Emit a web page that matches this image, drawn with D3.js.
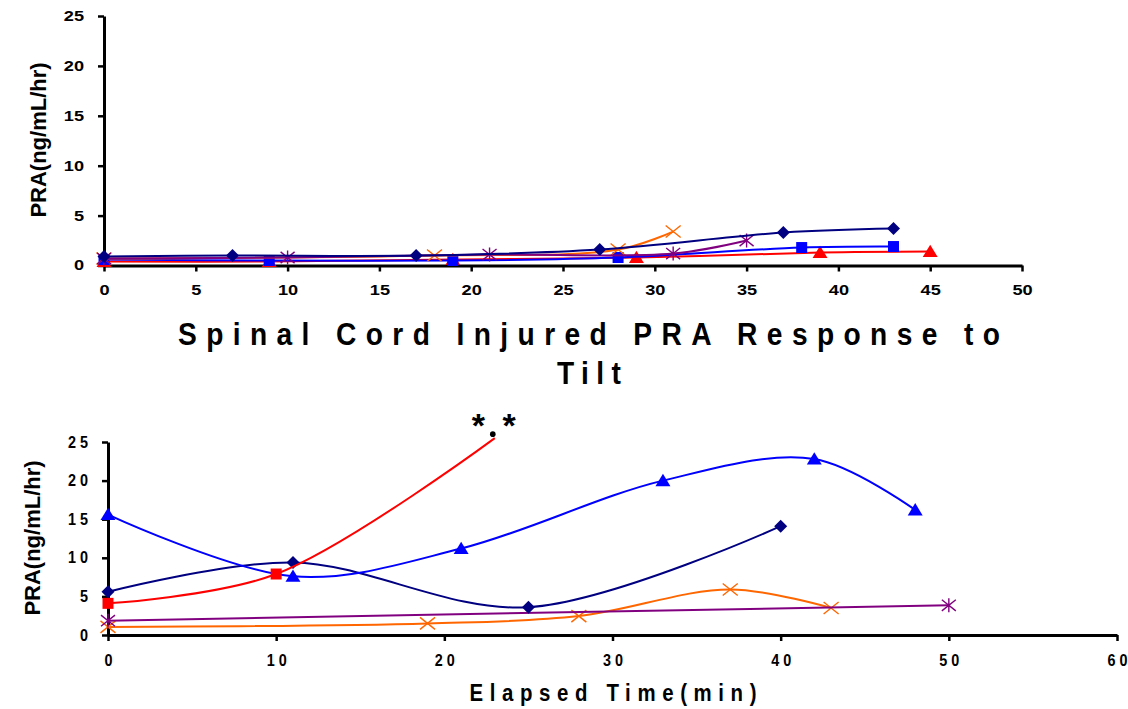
<!DOCTYPE html>
<html>
<head>
<meta charset="utf-8">
<style>
  body { margin: 0; background: #fff; }
  svg { display: block; font-family: "Liberation Sans", Arial, sans-serif; }
  .axis path, .axis line { stroke: #000; }
  .axis path { stroke-width: 3; }
  .axis line { stroke-width: 2.5; }
  .line { fill: none; stroke-width: 2; }
</style>
</head>
<body>
<svg width="1128" height="709"></svg>
<script src="https://d3js.org/d3.v7.min.js"></script>
<script>

// ---- top panel values ----
var topNavyX = [0, 7, 17, 27, 37, 43];
var topNavyY = [0.9, 1.0, 1.0, 1.6, 3.3, 3.7];
var topBlueX = [0, 9, 19, 28, 38, 43];
var topBlueY = [0.6, 0.5, 0.5, 0.8, 1.8, 1.9];
var topRedX = [0, 9, 19, 29, 39, 45];
var topRedY = [0.4, 0.4, 0.6, 0.8, 1.3, 1.4];
var topOrangeX = [0, 18, 28, 31];
var topOrangeY = [0.7, 1.0, 1.6, 3.4];
var topPurpleX = [0, 10, 21, 31, 35];
var topPurpleY = [0.7, 0.8, 1.1, 1.2, 2.5];

// ---- bottom panel: spinal cord injured ----
var botNavyX = [0, 11, 25, 40];
var botNavyY = [5.6, 9.4, 3.6, 14.1];
var botRedX = [0, 10, 23];
var botRedY = [4.1, 7.9, 25.5];
var botBlueX = [0, 11, 21, 33, 42, 48];
var botBlueY = [15.6, 7.6, 11.2, 20.0, 22.8, 16.2];
var botOrangeX = [0, 19, 28, 37, 43];
var botOrangeY = [1.05, 1.5, 2.45, 5.9, 3.5];
var botPurpleX = [0, 50];
var botPurpleY = [1.85, 3.85];

var topXTicks = [0, 5, 10, 15, 20, 25, 30, 35, 40, 45, 50];
var botXTicks = [0, 10, 20, 30, 40, 50, 60];
var yTicks = [0, 5, 10, 15, 20, 25];

var title = ["Spinal Cord Injured PRA Response to", "Tilt"];
var yTitle = "PRA(ng/mL/hr)";
var xTitle = "Elapsed Time(min)";

var NAVY = "#000080", BLUE = "#0000ff", RED = "#ff0000", ORANGE = "#ff6600", PURPLE = "#800080";

function zip(xs, ys) { return xs.map(function(x, i) { return [x, ys[i]]; }); }

var topSeries = [
  { pts: zip(topRedX, topRedY), color: RED, marker: "triangle" },
  { pts: zip(topBlueX, topBlueY), color: BLUE, marker: "square" },
  { pts: zip(topOrangeX, topOrangeY), color: ORANGE, marker: "x" },
  { pts: zip(topPurpleX, topPurpleY), color: PURPLE, marker: "star" },
  { pts: zip(topNavyX, topNavyY), color: NAVY, marker: "diamond" }
];
var botSeries = [
  { pts: zip(botOrangeX, botOrangeY), color: ORANGE, marker: "x" },
  { pts: zip(botPurpleX, botPurpleY), color: PURPLE, marker: "star" },
  { pts: zip(botNavyX, botNavyY), color: NAVY, marker: "diamond" },
  { pts: zip(botBlueX, botBlueY), color: BLUE, marker: "triangle" },
  { pts: zip(botRedX, botRedY), color: RED, marker: "square", marked: 2 } // last point has no marker
];

var svg = d3.select("svg");

// marker shapes, r = half size
function markerPath(type, r) {
  switch (type) {
    case "diamond": return "M0," + (-r) + "L" + r + ",0L0," + r + "L" + (-r) + ",0Z";
    case "square": return "M" + (-r) + "," + (-r) + "H" + r + "V" + r + "H" + (-r) + "Z";
    case "triangle": return "M0," + (-r * 1.05) + "L" + (r * 1.15) + "," + (r * 0.85) + "L" + (-r * 1.15) + "," + (r * 0.85) + "Z";
    case "x": return "M" + (-r) + "," + (-r * 0.8) + "L" + r + "," + (r * 0.8) + "M" + (-r) + "," + (r * 0.8) + "L" + r + "," + (-r * 0.8);
    case "star": return "M" + (-r) + "," + (-r * 0.8) + "L" + r + "," + (r * 0.8) + "M" + (-r) + "," + (r * 0.8) + "L" + r + "," + (-r * 0.8) + "M0," + (-r) + "V" + r;
  }
}
var markerSize = { diamond: 6.5, square: 5.5, triangle: 6.5, x: 7.5, star: 7 };

// sx = horizontal stretch of the tick label glyphs
function drawAxes(g, x, y, xTicks, yTicks, spaced, lblSize, sx) {
  var fmt = function(d) { return spaced ? String(d).split("").join(" ") : String(d); };
  var pad = 14;

  var xa = g.append("g")
      .attr("class", "axis")
      .attr("transform", "translate(0," + y.range()[0] + ")")
      .call(d3.axisBottom(x).tickValues(xTicks).tickSize(6).tickSizeOuter(0).tickPadding(pad).tickFormat(fmt));
  var ya = g.append("g")
      .attr("class", "axis")
      .attr("transform", "translate(" + x.range()[0] + ",0)")
      .call(d3.axisLeft(y).tickValues(yTicks).tickSize(6).tickSizeOuter(0).tickPadding(pad).tickFormat(fmt));
  [xa, ya].forEach(function(a) {
    a.attr("font-family", null);
    a.selectAll("text")
        .attr("fill", "#000")
        .style("font-size", lblSize + "px")
        .style("font-weight", "bold")
        .attr("transform", "scale(" + sx + ",1)");
  });
  ya.selectAll("text").attr("x", -(6 + pad) / sx);
}

function drawSeries(g, series, x, y) {
  var line = d3.line()
      .x(function(d) { return x(d[0]); })
      .y(function(d) { return y(d[1]); })
      .curve(d3.curveCatmullRom.alpha(0.5));

  series.forEach(function(s) {
    g.append("path")
        .attr("class", "line")
        .attr("stroke", s.color)
        .attr("d", line(s.pts));

    var pts = s.marked ? s.pts.slice(0, s.marked) : s.pts;
    var stroked = s.marker === "x" || s.marker === "star";
    g.append("g").selectAll("path")
      .data(pts)
      .enter().append("path")
        .attr("transform", function(d) { return "translate(" + x(d[0]) + "," + y(d[1]) + ")"; })
        .attr("d", markerPath(s.marker, markerSize[s.marker]))
        .attr("fill", stroked ? "none" : s.color)
        .attr("stroke", s.color)
        .attr("stroke-width", stroked ? 1.4 : 0);
  });
}

// top panel
var xTop = d3.scaleLinear().domain([0, 50]).range([104, 1022]);
var yTop = d3.scaleLinear().domain([0, 25]).range([265.5, 16]);
var gTop = svg.append("g");
drawAxes(gTop, xTop, yTop, topXTicks, yTicks, false, 14, 1.3);
drawSeries(gTop, topSeries, xTop, yTop);

// bottom panel
var xBot = d3.scaleLinear().domain([0, 60]).range([108, 1117]);
var yBot = d3.scaleLinear().domain([0, 25]).range([635, 442]);
var gBot = svg.append("g");
drawAxes(gBot, xBot, yBot, botXTicks, yTicks, true, 16, 0.9);
drawSeries(gBot, botSeries, xBot, yBot);

// y titles
[[38, 140], [32, 538]].forEach(function(p) {
  svg.append("text")
      .attr("transform", "translate(" + p[0] + "," + p[1] + ") rotate(-90)")
      .attr("text-anchor", "middle")
      .attr("dy", "0.35em")
      .style("font-size", "22px")
      .style("font-weight", "bold")
      .text(yTitle);
});

// chart title (wide letter spacing, narrow glyphs)
var tg = svg.append("g").attr("transform", "translate(589,0) scale(0.88,1)");
tg.append("text")
    .attr("x", 0).attr("y", 345)
    .attr("text-anchor", "middle")
    .attr("textLength", 822 / 0.88).attr("lengthAdjust", "spacing")
    .style("font-size", "32px").style("font-weight", "bold")
    .text(title[0]);
tg.append("text")
    .attr("x", 0).attr("y", 384)
    .attr("text-anchor", "middle")
    .attr("textLength", 64 / 0.88).attr("lengthAdjust", "spacing")
    .style("font-size", "32px").style("font-weight", "bold")
    .text(title[1]);

// x title
var xg = svg.append("g").attr("transform", "translate(613,0) scale(0.85,1)");
xg.append("text")
    .attr("x", 0).attr("y", 701)
    .attr("text-anchor", "middle")
    .attr("textLength", 287 / 0.85).attr("lengthAdjust", "spacing")
    .style("font-size", "24px").style("font-weight", "bold")
    .text(xTitle);

// significance mark at the end of the red curve
var endRed = botSeries[4].pts[botSeries[4].pts.length - 1];
svg.append("circle")
    .attr("cx", xBot(endRed[0]) - 2).attr("cy", yBot(endRed[1]) - 4)
    .attr("r", 2.8).attr("fill", "#000");
svg.append("text")
    .attr("x", xBot(endRed[0]) - 1).attr("y", yBot(endRed[1]) - 1)
    .attr("text-anchor", "middle")
    .attr("textLength", 44).attr("lengthAdjust", "spacing")
    .style("font-size", "34px").style("font-weight", "bold")
    .text("* *");

</script>
</body>
</html>
